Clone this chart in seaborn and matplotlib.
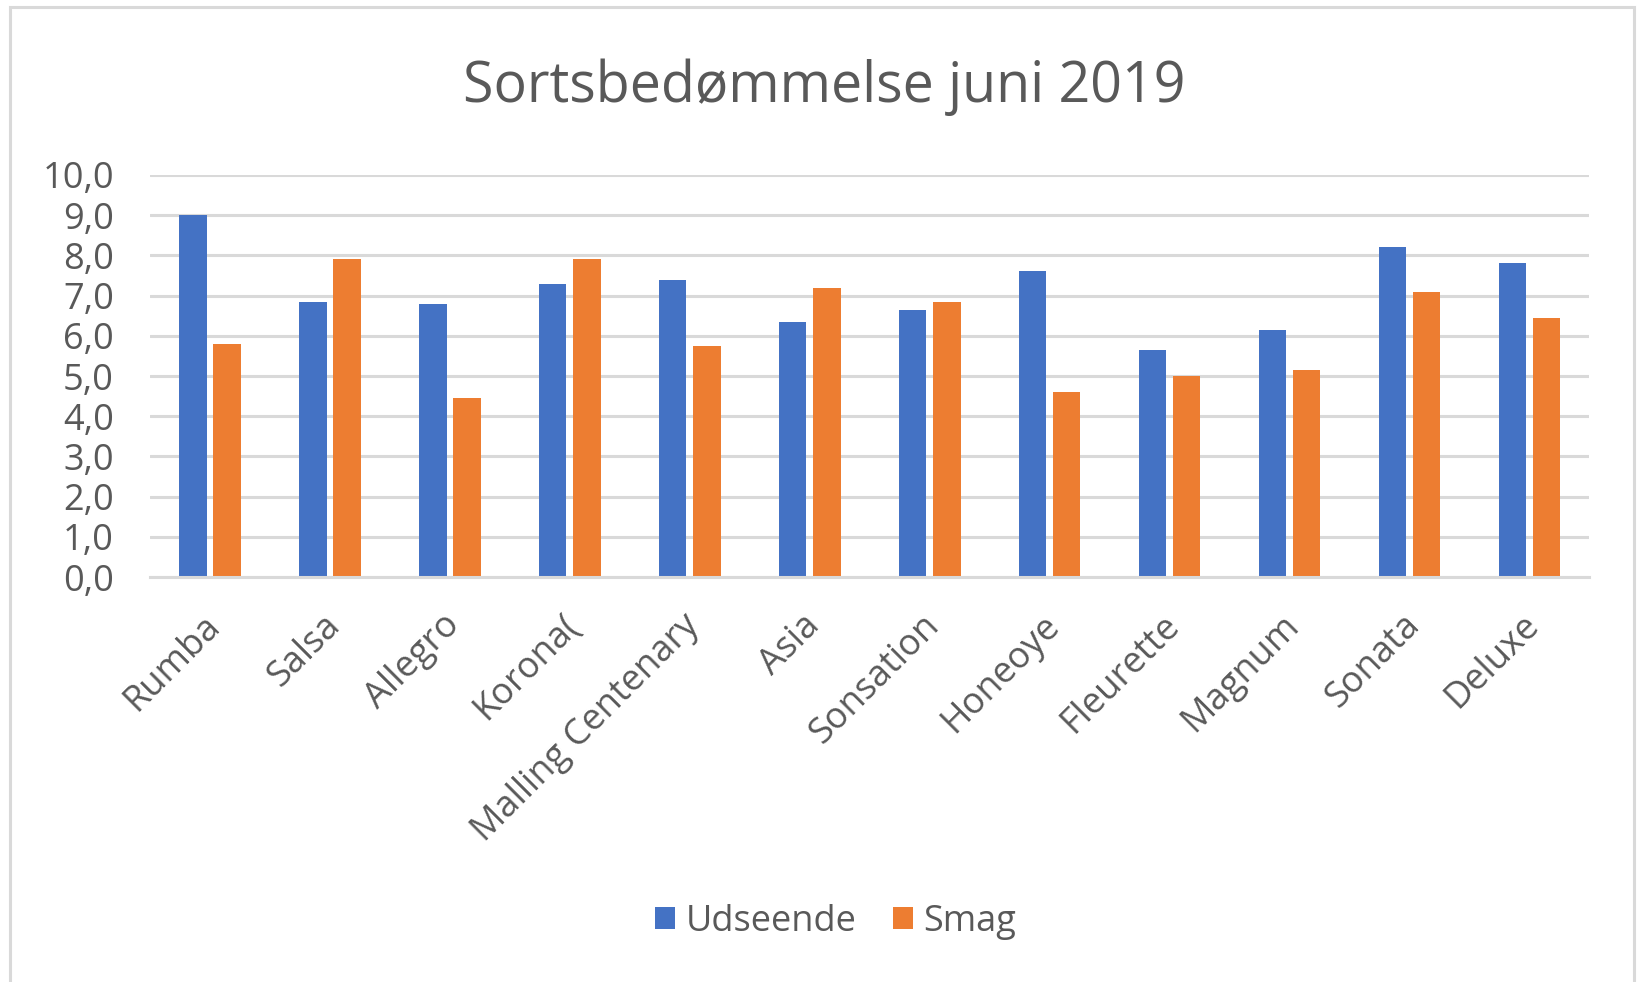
import matplotlib
matplotlib.use("Agg")
import matplotlib.pyplot as plt
import matplotlib.transforms as mtransforms
import seaborn as sns
import pandas as pd
from matplotlib.patches import Rectangle

categories = ["Rumba", "Salsa", "Allegro", "Korona(", "Malling Centenary", "Asia",
              "Sonsation", "Honeoye", "Fleurette", "Magnum", "Sonata", "Deluxe"]
udseende = [9.0, 6.85, 6.8, 7.3, 7.4, 6.35, 6.65, 7.6, 5.65, 6.15, 8.2, 7.8]
smag = [5.8, 7.9, 4.45, 7.9, 5.75, 7.2, 6.85, 4.6, 5.0, 5.15, 7.1, 6.45]
series = ["Udseende", "Smag"]
colors = ["#4472C4", "#ED7D31"]
yticks = [0, 1, 2, 3, 4, 5, 6, 7, 8, 9, 10]

df = pd.DataFrame({
    "Sort": categories * 2,
    "Serie": [series[0]] * len(categories) + [series[1]] * len(categories),
    "Værdi": udseende + smag,
})

sns.set_theme(style="white")
plt.rcParams["font.family"] = ["Open Sans", "DejaVu Sans"]
text_color = "#595959"
grid_color = "#D9D9D9"

fig = plt.figure(figsize=(16.42, 9.82), dpi=100)
ax = fig.add_axes([0.0914, 0.4124, 0.8766, 0.4094])

sns.barplot(data=df, x="Sort", y="Værdi", hue="Serie", hue_order=series,
            palette=colors, width=0.57, gap=0.2, ax=ax, legend=True,
            saturation=1, edgecolor="none")

ax.set_ylim(0, 10)
ax.set_xlim(-0.5, len(categories) - 0.5)
ax.set_yticks(yticks)
ax.set_yticklabels([f"{v:.1f}".replace(".", ",") for v in yticks],
                   fontsize=26, color=text_color)
ax.yaxis.grid(True, color=grid_color, linewidth=2.2)
ax.set_axisbelow(True)
for s in ["top", "right", "left"]:
    ax.spines[s].set_visible(False)
ax.spines["bottom"].set_color(grid_color)
ax.spines["bottom"].set_linewidth(2.2)
ax.tick_params(axis="y", length=0, pad=26)
ax.set_xlabel("")
ax.set_ylabel("")
ax.set_xticks(range(len(categories)))
ax.set_xticklabels(categories, rotation=45, ha="right", rotation_mode="anchor",
                   fontsize=26, color=text_color)
ax.tick_params(axis="x", length=0, pad=22)
offset = mtransforms.ScaledTranslation(-8 / 100, 0, fig.dpi_scale_trans)
for lbl in ax.get_xticklabels():
    lbl.set_transform(lbl.get_transform() + offset)

handles, labels = ax.get_legend_handles_labels()
ax.get_legend().remove()
fig.legend(handles, labels, loc="center", bbox_to_anchor=(0.509, 0.061), ncol=2,
           frameon=False, fontsize=26, labelcolor=text_color,
           handlelength=0.55, handleheight=0.55, handletextpad=0.3, columnspacing=1.0)

fig.text(0.502, 0.911, "Sortsbedømmelse juni 2019", ha="center", va="center",
         fontsize=40, color=text_color)

fig.patches.append(Rectangle((0.0062, -0.05), 0.9889, 1.0425, transform=fig.transFigure,
                             fill=False, edgecolor="#D9D9D9", linewidth=2.2))

fig.savefig("out.png", dpi=100, facecolor="white")
